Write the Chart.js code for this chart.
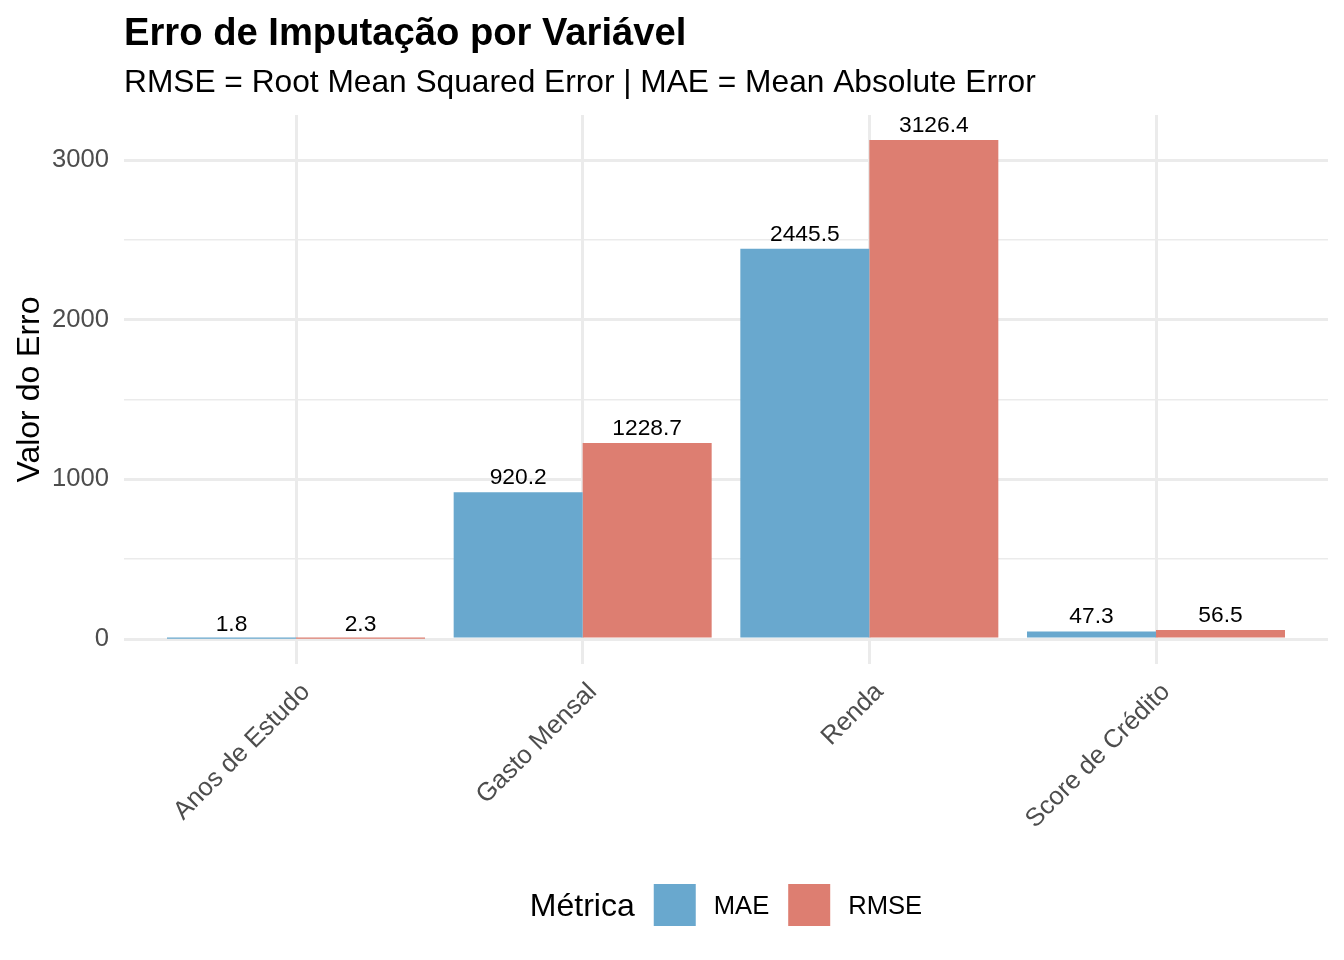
<!DOCTYPE html>
<html>
<head>
<meta charset="utf-8">
<script src="https://cdn.jsdelivr.net/npm/chart.js@4"></script>
<style>
html,body{margin:0;padding:0;background:#ffffff;}
#wrap{width:1344px;height:960px;position:relative;}
</style>
</head>
<body>
<div id="wrap"><canvas id="c" width="1344" height="960"></canvas></div>
<script>
// ---- data ----
const categories = ["Anos de Estudo", "Gasto Mensal", "Renda", "Score de Crédito"];
const seriesNames = ["MAE", "RMSE"];
const maeValues = [1.8, 920.2, 2445.5, 47.3];
const rmseValues = [2.3, 1228.7, 3126.4, 56.5];
const yTickValues = [0, 500, 1000, 1500, 2000, 2500, 3000];
const yLabelValues = [0, 1000, 2000, 3000];
const titleText = "Erro de Imputação por Variável";
const subtitleText = "RMSE = Root Mean Squared Error | MAE = Mean Absolute Error";
const yAxisTitle = "Valor do Erro";
const legendTitle = "Métrica";

// ---- style ----
const FONT = "'Liberation Sans', Arial, Helvetica, sans-serif";
const colors = ["#69A8CE", "#DD7E71"];
const gridColor = "#EBEBEB";

const maxVal = Math.max(...maeValues, ...rmseValues);
const yExp = maxVal * 0.05;

function toPoints(vals) { return vals.map((v, i) => ({ x: i, y: v })); }

const decor = {
  id: 'decor',
  afterDatasetsDraw(chart) {
    const ctx = chart.ctx;
    ctx.save();
    ctx.fillStyle = '#000000';
    ctx.textAlign = 'center';
    ctx.textBaseline = 'alphabetic';
    ctx.font = `22.8px ${FONT}`;
    chart.data.datasets.forEach((ds, di) => {
      const meta = chart.getDatasetMeta(di);
      meta.data.forEach((el, i) => {
        const v = ds.data[i].y;
        ctx.fillText(v.toFixed(1), el.x, el.y - 8);
      });
    });
    ctx.restore();
  },
  afterDraw(chart) {
    const ctx = chart.ctx;
    const area = chart.chartArea;
    ctx.save();
    // title
    ctx.fillStyle = '#000000';
    ctx.textAlign = 'left';
    ctx.textBaseline = 'alphabetic';
    ctx.font = `bold 38.2px ${FONT}`;
    ctx.fillText(titleText, area.left, 45);
    ctx.font = `31.7px ${FONT}`;
    ctx.fillText(subtitleText, area.left, 92);

    // legend
    const titleFont = `32px ${FONT}`;
    const labelFont = `25.6px ${FONT}`;
    const key = 42, gapTitle = 19, gapKeyText = 18, gapItem = 19;
    ctx.font = titleFont;
    const tW = ctx.measureText(legendTitle).width;
    ctx.font = labelFont;
    const lW = seriesNames.map(s => ctx.measureText(s).width);
    let total = tW + gapTitle;
    lW.forEach((w, i) => { total += key + gapKeyText + w + (i < lW.length - 1 ? gapItem : 0); });
    const cx = (area.left + area.right) / 2;
    const cy = 905;
    let x = cx - total / 2;
    ctx.textBaseline = 'middle';
    ctx.font = titleFont;
    ctx.fillStyle = '#000000';
    ctx.fillText(legendTitle, x, cy + 2);
    x += tW + gapTitle;
    seriesNames.forEach((s, i) => {
      ctx.fillStyle = colors[i];
      ctx.fillRect(x, cy - key / 2, key, key);
      x += key + gapKeyText;
      ctx.fillStyle = '#000000';
      ctx.font = labelFont;
      ctx.fillText(s, x, cy + 2);
      x += lW[i] + gapItem;
    });
    ctx.restore();
  }
};

new Chart(document.getElementById('c'), {
  type: 'bar',
  data: {
    datasets: [
      { label: seriesNames[0], data: toPoints(maeValues), backgroundColor: colors[0], borderWidth: 0, borderSkipped: false },
      { label: seriesNames[1], data: toPoints(rmseValues), backgroundColor: colors[1], borderWidth: 0, borderSkipped: false }
    ]
  },
  options: {
    responsive: false,
    devicePixelRatio: 1,
    animation: false,
    layout: { padding: { left: 0, top: 115, right: 16, bottom: 96 } },
    datasets: { bar: { categoryPercentage: 0.9, barPercentage: 1.0, grouped: true } },
    plugins: { legend: { display: false }, title: { display: false }, tooltip: { enabled: false } },
    scales: {
      x: {
        type: 'linear',
        min: -0.6,
        max: categories.length - 1 + 0.6,
        offset: false,
        afterBuildTicks(scale) { scale.ticks = categories.map((c, i) => ({ value: i })); },
        afterFit(scale) { scale.height = 200; },
        ticks: {
          autoSkip: false,
          minRotation: 45,
          maxRotation: 45,
          padding: 13,
          labelOffset: 10,
          color: '#4D4D4D',
          font: { family: FONT, size: 25.6 },
          callback: (v) => categories[v] ?? ''
        },
        grid: { color: gridColor, lineWidth: 3, drawTicks: false, offset: false },
        border: { display: false }
      },
      y: {
        type: 'linear',
        min: -yExp,
        max: maxVal + yExp,
        afterBuildTicks(scale) { scale.ticks = yTickValues.map(v => ({ value: v })); },
        afterFit(scale) { scale.width = 124; },
        ticks: {
          padding: 15,
          color: '#4D4D4D',
          font: { family: FONT, size: 25.6 },
          callback: (v) => yLabelValues.includes(v) ? String(v) : ''
        },
        grid: {
          color: gridColor,
          drawTicks: false,
          lineWidth: (c) => (c.tick && yLabelValues.includes(c.tick.value)) ? 3 : 1.5
        },
        border: { display: false },
        title: {
          display: true,
          text: yAxisTitle,
          color: '#000000',
          font: { family: FONT, size: 32 },
          padding: { top: 11, bottom: 0 }
        }
      }
    }
  },
  plugins: [decor]
});
</script>
</body>
</html>
